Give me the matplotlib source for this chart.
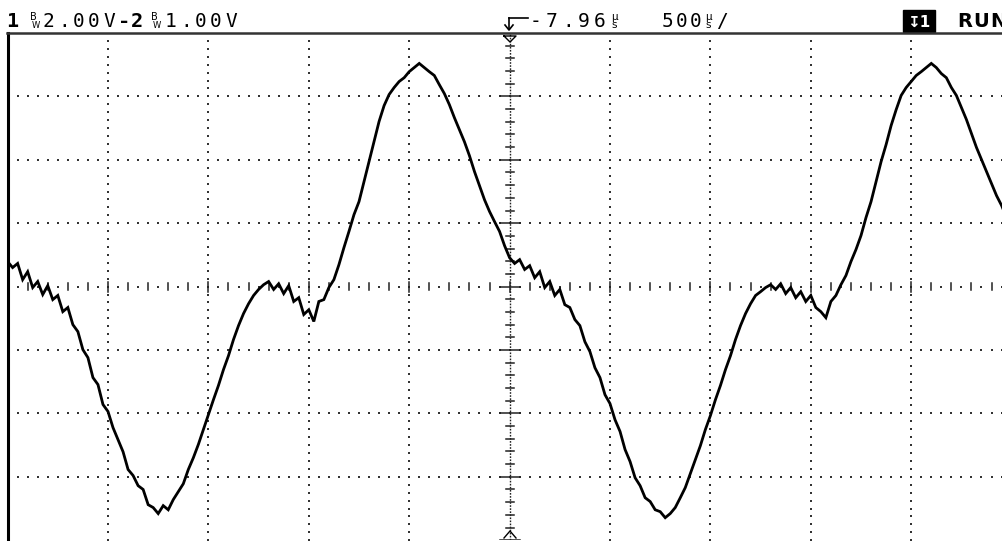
import numpy as np
import matplotlib
matplotlib.use("Agg")
import matplotlib.pyplot as plt

# ---- data (read from the screen) ----
# time axis: 500 us/div, 10 divisions, trigger at centre (ms)
t_start_ms = -2.5
t_step_ms = 0.025
# trace voltage samples (V), 2.00 V/div
volts = [
    0.79, 0.60, 0.73, 0.22, 0.47, -0.03, 0.16, -0.25, 0.03, -0.41,
    -0.28, -0.79, -0.66, -1.20, -1.42, -1.99, -2.24, -2.87, -3.09, -3.72,
    -3.94, -4.45, -4.83, -5.21, -5.77, -5.96, -6.28, -6.40, -6.88, -6.97,
    -7.16, -6.91, -7.04, -6.72, -6.47, -6.22, -5.77, -5.40, -4.98, -4.51,
    -4.04, -3.57, -3.12, -2.62, -2.18, -1.67, -1.23, -0.85, -0.54, -0.28,
    -0.09, 0.06, 0.16, -0.09, 0.09, -0.22, 0.03, -0.47, -0.35, -0.88,
    -0.73, -1.10, -0.47, -0.41, -0.03, 0.22, 0.69, 1.23, 1.74, 2.27,
    2.68, 3.31, 3.94, 4.57, 5.21, 5.71, 6.06, 6.28, 6.47, 6.59,
    6.78, 6.91, 7.04, 6.91, 6.78, 6.66, 6.37, 6.09, 5.74, 5.33,
    4.95, 4.57, 4.13, 3.63, 3.19, 2.74, 2.37, 2.05, 1.74, 1.29,
    0.91, 0.73, 0.85, 0.54, 0.66, 0.28, 0.47, -0.03, 0.16, -0.28,
    -0.09, -0.57, -0.66, -1.04, -1.23, -1.74, -2.05, -2.56, -2.87, -3.41,
    -3.69, -4.20, -4.57, -5.14, -5.52, -6.03, -6.28, -6.66, -6.78, -7.04,
    -7.10, -7.29, -7.16, -6.97, -6.66, -6.34, -5.90, -5.46, -5.02, -4.51,
    -4.07, -3.57, -3.12, -2.62, -2.18, -1.67, -1.23, -0.85, -0.54, -0.28,
    -0.16, -0.03, 0.06, -0.09, 0.09, -0.22, -0.03, -0.35, -0.16, -0.47,
    -0.28, -0.66, -0.79, -0.98, -0.47, -0.28, 0.06, 0.35, 0.79, 1.17,
    1.61, 2.18, 2.68, 3.31, 3.94, 4.48, 5.08, 5.58, 6.03, 6.28,
    6.47, 6.66, 6.78, 6.91, 7.04, 6.91, 6.72, 6.59, 6.28, 6.03,
    5.65, 5.27, 4.83, 4.39, 4.01, 3.63, 3.25, 2.87, 2.56, 2.18,
]
v_per_div = 2.0
ms_per_div = 0.5
n_xdiv = 10
n_ydiv = 8

ch1_label = "2.00V"
ch2_label = "1.00V"
delay_label = "-7.96"
timebase_label = "500"
run_label = "RUN"

# ---- figure ----
W, H = 1003, 541
fig = plt.figure(figsize=(W / 100, H / 100), dpi=100)
fig.patch.set_facecolor("white")

x0_px, top_px = 7.6, 33.0
xdiv_px, ydiv_px = 100.4, 63.4
ax = fig.add_axes([x0_px / W, (H - (top_px + n_ydiv * ydiv_px)) / H,
                   n_xdiv * xdiv_px / W, n_ydiv * ydiv_px / H])
tmin, tmax = -n_xdiv / 2 * ms_per_div, n_xdiv / 2 * ms_per_div
vmin, vmax = -n_ydiv / 2 * v_per_div, n_ydiv / 2 * v_per_div
ax.set_xlim(tmin, tmax)
ax.set_ylim(vmin, vmax)
ax.set_xticks([]); ax.set_yticks([])
for s in ["top", "right", "bottom"]:
    ax.spines[s].set_visible(False)
ax.spines["left"].set_linewidth(2.2)
ax.spines["left"].set_color("black")

dot_c = "#333333"
px_v = v_per_div / ydiv_px
px_t = ms_per_div / xdiv_px

# graticule: vertical dotted lines
for i in range(1, n_xdiv + 1):
    tx = tmin + i * ms_per_div
    if abs(tx) < 1e-9:
        continue
    yy = np.arange(vmin, vmax + 1e-9, v_per_div / 8)
    ax.scatter(np.full_like(yy, tx), yy, s=1.6, marker="s", c=dot_c, linewidths=0, zorder=1)
# horizontal dotted lines
for j in range(1, n_ydiv):
    vy = vmin + j * v_per_div
    if abs(vy) < 1e-9:
        continue
    xx = np.arange(tmin, tmax + 1e-9, ms_per_div / 10)
    ax.scatter(xx, np.full_like(xx, vy), s=1.6, marker="s", c=dot_c, linewidths=0, zorder=1)

# centre horizontal axis with ticks
xx = np.arange(tmin, tmax + 1e-9, ms_per_div / 10)
for k, tx in enumerate(xx):
    if k % 2 == 1:
        ax.scatter([tx], [0], s=1.6, marker="s", c=dot_c, linewidths=0, zorder=1)
    else:
        h = 5 if k % 10 == 0 else 3.5
        ax.plot([tx, tx], [-h * px_v, h * px_v], color="#222222", lw=1.1, zorder=1)
# centre vertical axis with ticks
ax.plot([0, 0], [vmin, vmax], color="#222222", lw=1.0, ls=(0, (1.2, 1.0)), zorder=1)
yy = np.arange(vmin, vmax + 1e-9, v_per_div / 5)
for k, vy in enumerate(yy):
    w = 10 if k % 5 == 0 else 4
    ax.plot([-w * px_t, w * px_t], [vy, vy], color="#222222", lw=1.1, zorder=1)

# trace
t = t_start_ms + t_step_ms * np.arange(len(volts))
ax.plot(t, volts, color="black", lw=2.0, zorder=3, solid_joinstyle="miter")

# ---- overlay in pixel coordinates for the status line ----
ov = fig.add_axes([0, 0, 1, 1], facecolor="none")
ov.set_xlim(0, W); ov.set_ylim(H, 0); ov.axis("off")
ov.plot([7, W], [33, 33], color="#333333", lw=1.8)

mono = "DejaVu Sans Mono"
fs = 14
base = 27

def mtext(x, s, pitch, bold=False, family=mono, size=fs):
    for i, ch in enumerate(s):
        ov.text(x + i * pitch, base, ch, fontsize=size, family=family,
                fontweight="bold" if bold else "normal", va="baseline", ha="left")

def bw(x):
    ov.text(x, base - 7, "B", fontsize=7, family="DejaVu Sans", va="baseline")
    ov.text(x + 2, base + 1, "W", fontsize=6, family="DejaVu Sans", va="baseline")

def us(x):
    ov.text(x, base - 7, "µ", fontsize=7.5, family="DejaVu Sans", va="baseline")
    ov.text(x, base + 1, "s", fontsize=7.5, family="DejaVu Sans", va="baseline")

mtext(6, "1", 14, bold=True, size=14.5)
bw(30)
mtext(43, ch1_label, 15)
mtext(118, "-2", 13, bold=True, size=14.5)
bw(151)
mtext(165, ch2_label, 15)

# trigger symbol
ov.plot([509, 509], [18, 29], color="black", lw=1.2)
ov.plot([505, 509, 513], [25, 30, 25], color="black", lw=1.2)
ov.plot([509, 528], [18, 18], color="black", lw=1.2)
mtext(530, delay_label, 16)
us(611)
mtext(662, timebase_label, 14)
us(705)
mtext(716, "/", 14)

# trigger markers on centre line
ov.plot([504, 510, 516, 504], [36, 42, 36, 36], color="black", lw=1.0)
ov.plot([504, 510, 516], [538, 531, 538], color="black", lw=1.0)

# run box
ov.add_patch(plt.Rectangle((903, 10), 32, 22, color="black"))
ov.text(919, 27, "↧1", fontsize=11, color="white", fontweight="bold", ha="center", va="baseline")
mtext(957, run_label, 16.5, bold=True, family="DejaVu Sans", size=14)

fig.savefig("out.png", dpi=100, facecolor="white")
